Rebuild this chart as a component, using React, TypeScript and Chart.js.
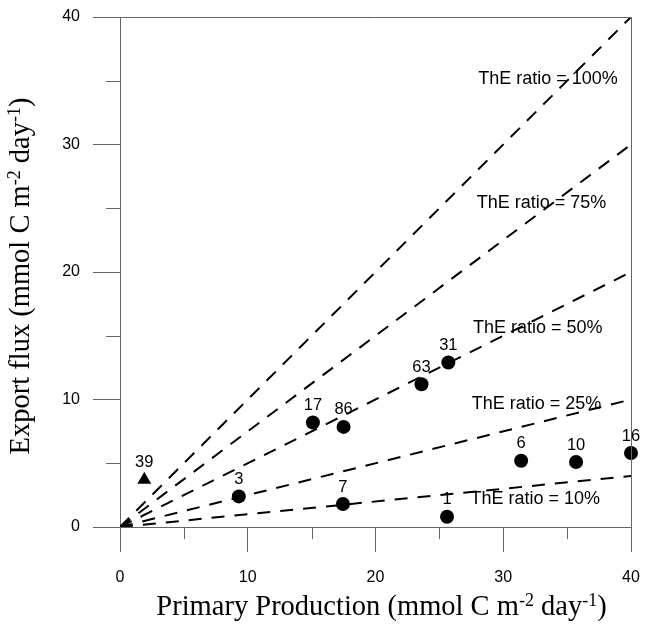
import React, { useEffect, useRef } from "react";
import { Chart, registerables } from "chart.js";

Chart.register(...registerables);

// Station measurements: primary production vs. export flux (mmol C m-2 day-1)
const stationIds = ["39", "3", "17", "86", "7", "63", "31", "1", "6", "10", "16"];
const primaryProduction = [1.9, 9.3, 15.1, 17.5, 17.45, 23.6, 25.7, 25.6, 31.4, 35.7, 40.0];
const exportFlux = [3.7, 2.4, 8.2, 7.85, 1.8, 11.2, 12.9, 0.8, 5.2, 5.1, 5.8];
const markerShapes = ["triangle", "circle", "circle", "circle", "circle", "circle", "circle", "circle", "circle", "circle", "circle"];

// ThE ratio reference lines (export = ratio * production)
const theRatios = [1.0, 0.75, 0.5, 0.25, 0.1];
const theRatioLabels = ["ThE ratio = 100%", "ThE ratio = 75%", "ThE ratio = 50%", "ThE ratio = 25%", "ThE ratio = 10%"];
const theRatioLabelX = [33.5, 33.0, 32.7, 32.6, 32.5];
const theRatioLabelY = [35.1, 25.4, 15.6, 9.65, 2.2];

// Axis ranges and ticks
const axisMin = 0;
const axisMax = 40;
const majorStep = 10;
const minorTicks = [5, 15, 25, 35];

const xTitleParts = [
  { t: "Primary Production (mmol C m", sup: false },
  { t: "-2", sup: true },
  { t: " day", sup: false },
  { t: "-1", sup: true },
  { t: ")", sup: false },
];
const yTitleParts = [
  { t: "Export flux (mmol C m", sup: false },
  { t: "-2", sup: true },
  { t: " day", sup: false },
  { t: "-1", sup: true },
  { t: ")", sup: false },
];

const SANS = "'Liberation Sans', Arial, sans-serif";
const SERIF = "'Liberation Serif', 'Times New Roman', serif";
const AXIS_COLOR = "#666666";
const TITLE_SIZE = 28.5;
const SUP_SIZE = 18;

function drawRich(ctx: CanvasRenderingContext2D, parts: { t: string; sup: boolean }[], cx: number, baseline: number) {
  const fontFor = (sup: boolean) => `${sup ? SUP_SIZE : TITLE_SIZE}px ${SERIF}`;
  let total = 0;
  for (const p of parts) {
    ctx.font = fontFor(p.sup);
    total += ctx.measureText(p.t).width;
  }
  let x = cx - total / 2;
  ctx.textAlign = "left";
  ctx.textBaseline = "alphabetic";
  for (const p of parts) {
    ctx.font = fontFor(p.sup);
    ctx.fillText(p.t, x, p.sup ? baseline - 9 : baseline);
    x += ctx.measureText(p.t).width;
  }
}

const decorPlugin = {
  id: "decor",
  afterDraw(chart: any) {
    const { ctx, chartArea, scales } = chart;
    const xs = scales.x;
    const ys = scales.y;
    ctx.save();
    // frame top and right
    ctx.strokeStyle = AXIS_COLOR;
    ctx.lineWidth = 1;
    ctx.beginPath();
    ctx.moveTo(chartArea.left, chartArea.top + 0.5);
    ctx.lineTo(chartArea.right + 0.5, chartArea.top + 0.5);
    ctx.lineTo(chartArea.right + 0.5, chartArea.bottom);
    ctx.stroke();
    // minor ticks
    ctx.beginPath();
    for (const v of minorTicks) {
      const px = Math.round(xs.getPixelForValue(v)) + 0.5;
      ctx.moveTo(px, chartArea.bottom);
      ctx.lineTo(px, chartArea.bottom + 12);
      const py = Math.round(ys.getPixelForValue(v)) + 0.5;
      ctx.moveTo(chartArea.left, py);
      ctx.lineTo(chartArea.left - 14, py);
    }
    ctx.stroke();

    // ratio labels
    ctx.fillStyle = "#000";
    ctx.font = `18px ${SANS}`;
    ctx.textAlign = "center";
    ctx.textBaseline = "middle";
    theRatioLabels.forEach((txt, i) => {
      ctx.fillText(txt, xs.getPixelForValue(theRatioLabelX[i]), ys.getPixelForValue(theRatioLabelY[i]));
    });

    // station labels
    ctx.font = `16.5px ${SANS}`;
    stationIds.forEach((id, i) => {
      ctx.fillText(id, xs.getPixelForValue(primaryProduction[i]), ys.getPixelForValue(exportFlux[i]) - 17);
    });

    // axis titles
    drawRich(ctx, xTitleParts, (chartArea.left + chartArea.right) / 2 + 6, chart.height - 9);
    ctx.save();
    ctx.translate(29, (chartArea.top + chartArea.bottom) / 2);
    ctx.rotate(-Math.PI / 2);
    drawRich(ctx, yTitleParts, -4, 0);
    ctx.restore();

    ctx.restore();
  },
};

export default function App() {
  const canvasRef = useRef<HTMLCanvasElement | null>(null);

  useEffect(() => {
    const canvas = canvasRef.current;
    if (!canvas) return;

    const ratioDatasets = theRatios.map((r) => ({
      type: "scatter" as const,
      data: [
        { x: axisMin, y: 0 },
        { x: axisMax, y: axisMax * r },
      ],
      showLine: true,
      borderColor: "#000",
      borderWidth: 2,
      borderDash: [13, 10],
      pointRadius: 0,
      order: 1,
    }));

    const chart = new Chart(canvas, {
      type: "scatter",
      data: {
        datasets: [
          {
            data: primaryProduction.map((x, i) => ({ x, y: exportFlux[i] })),
            pointStyle: markerShapes as any,
            pointRadius: markerShapes.map((s) => (s === "triangle" ? 8 : 7)),
            backgroundColor: "#000",
            borderColor: "#000",
            borderWidth: 0,
            clip: false as any,
            order: 0,
          },
          ...ratioDatasets,
        ],
      },
      options: {
        animation: false,
        responsive: true,
        maintainAspectRatio: false,
        layout: { padding: { top: 17, right: 22, left: 0, bottom: 0 } },
        plugins: {
          legend: { display: false },
          tooltip: { enabled: false },
        },
        scales: {
          x: {
            type: "linear",
            min: axisMin,
            max: axisMax,
            afterFit: (s: any) => {
              s.height = 97;
              s.paddingLeft = 0;
              s.paddingRight = 0;
            },
            ticks: {
              stepSize: majorStep,
              color: "#000",
              font: { family: SANS, size: 16 },
              padding: 16,
            },
            grid: {
              drawOnChartArea: false,
              drawTicks: true,
              tickLength: 25,
              color: AXIS_COLOR,
            },
            border: { display: true, color: AXIS_COLOR },
          },
          y: {
            type: "linear",
            min: axisMin,
            max: axisMax,
            afterFit: (s: any) => {
              s.width = 120;
              s.paddingTop = 0;
              s.paddingBottom = 0;
            },
            ticks: {
              stepSize: majorStep,
              color: "#000",
              font: { family: SANS, size: 16 },
              padding: 13,
            },
            grid: {
              drawOnChartArea: false,
              drawTicks: true,
              tickLength: 27,
              color: AXIS_COLOR,
            },
            border: { display: true, color: AXIS_COLOR },
          },
        },
      },
      plugins: [decorPlugin],
    });

    return () => chart.destroy();
  }, []);

  return (
    <div style={{ position: "fixed", left: 0, top: 0, width: 653, height: 624 }}>
      <canvas ref={canvasRef} />
    </div>
  );
}
